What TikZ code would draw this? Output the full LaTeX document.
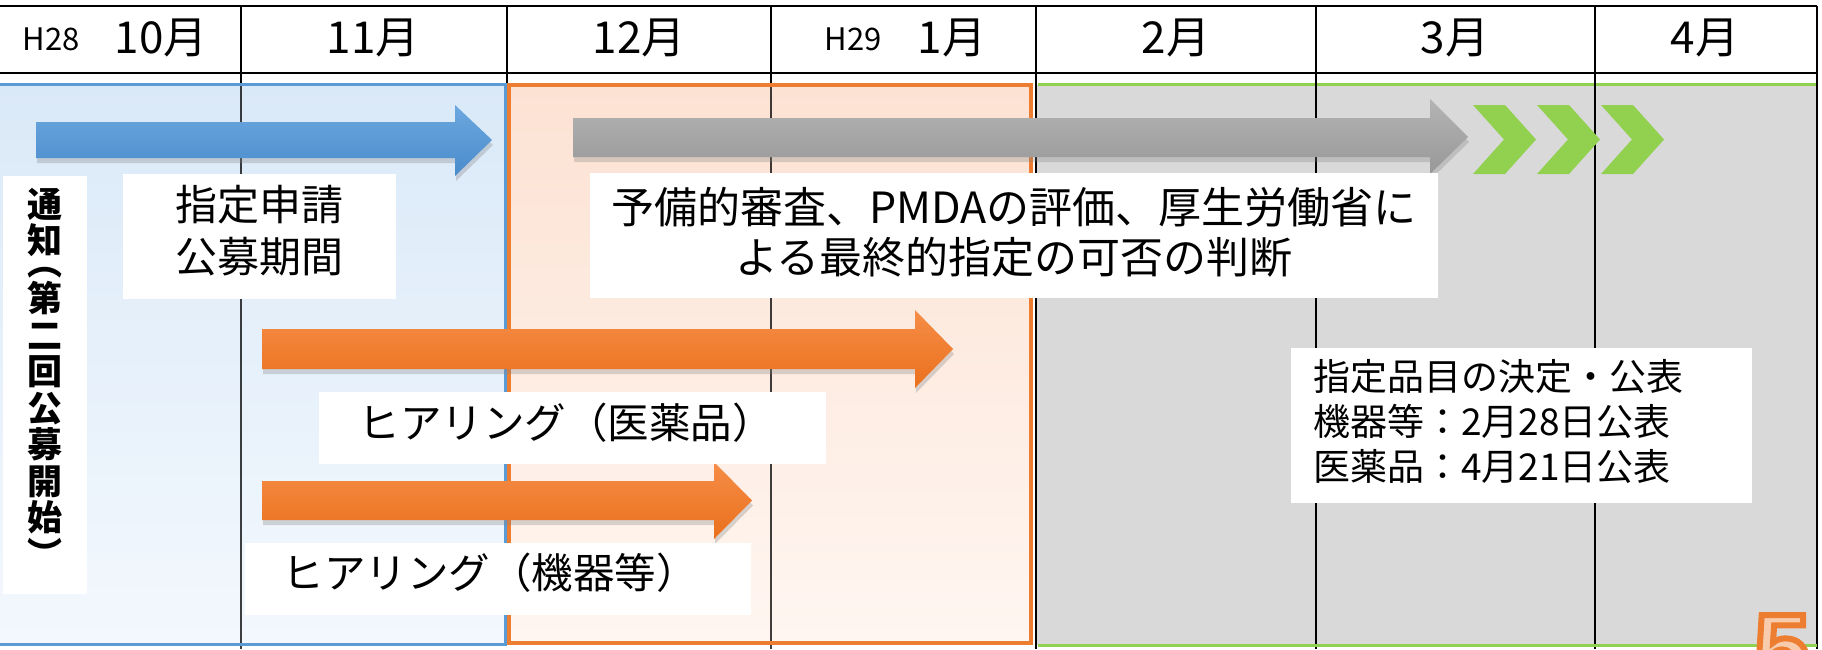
\documentclass[tikz,border=0pt]{standalone}
\usepackage{fontspec}
\usetikzlibrary{shadows}
\newfontfamily\jp{Noto Sans CJK JP}
\newfontfamily\numfont{Liberation Sans}
\definecolor{bBlue}{HTML}{5B9BD5}
\definecolor{bOrange}{HTML}{ED7D31}
\definecolor{bGreen}{HTML}{92D050}
\definecolor{fGray}{HTML}{D9D9D9}
\definecolor{fBlueTop}{HTML}{DAE9F8}
\definecolor{fBlueBot}{HTML}{F3F8FD}
\definecolor{fOrTop}{HTML}{FCE2D3}
\definecolor{fOrBot}{HTML}{FFF6F1}
\definecolor{aBlueTop}{HTML}{6CA8E0}
\definecolor{aBlueBot}{HTML}{4A8BCB}
\definecolor{aGrayTop}{HTML}{B4B4B4}
\definecolor{aGrayBot}{HTML}{989898}
\definecolor{aOrTop}{HTML}{F68D48}
\definecolor{aOrBot}{HTML}{EA701C}
\definecolor{pageFill}{HTML}{F8CBAD}
\begin{document}
\begin{tikzpicture}[x=1pt,y=-1pt,
  gridline/.style={line width=2.6pt,black},
  thingrid/.style={line width=1.6pt,black,opacity=0.75},
  wbox/.style={fill=white,draw=none,inner sep=0pt},
  txt/.style={inner sep=0pt,font=\jp\fontsize{#1}{#1}\selectfont},
  multitxt/.style 2 args={inner sep=0pt,align=center,font=\jp\fontsize{#1}{#2}\selectfont},
  hdr/.style={inner sep=0pt,anchor=base,font=\jp\fontsize{44}{44}\selectfont},
  hdrsmall/.style={inner sep=0pt,anchor=base,font=\jp\fontsize{31}{31}\selectfont},
  ashadow/.style={drop shadow={shadow xshift=1pt,shadow yshift=-5pt,opacity=0.3}},
  bluearrow/.style={top color=aBlueTop,bottom color=aBlueBot,draw=none,ashadow},
  grayarrow/.style={top color=aGrayTop,bottom color=aGrayBot,draw=none,ashadow},
  orangearrow/.style={top color=aOrTop,bottom color=aOrBot,draw=none,ashadow},
  chevron/.style={fill=bGreen,draw=none}
]
\useasboundingbox (0,0) rectangle (1822,649);

% header grid
\draw[gridline] (0,6) -- (1817,6);
\draw[gridline] (0,73) -- (1817,73);
\foreach \x in {241,507,771,1036,1316,1595,1817}
  \draw[gridline] (\x,6) -- (\x,85);

% header labels
\node[hdrsmall] (h28) at (51,50) {H28};
\node[hdr] (m10) at (161,53) {10月};
\node[hdr] (m11) at (373,53) {11月};
\node[hdr] (m12) at (639,53) {12月};
\node[hdrsmall] (h29) at (853,50) {H29};
\node[hdr] (m1) at (952,53) {1月};
\node[hdr] (m2) at (1176,53) {2月};
\node[hdr] (m3) at (1455,53) {3月};
\node[hdr] (m4) at (1705,53) {4月};

% region fills
\fill[top color=fBlueTop,bottom color=fBlueBot] (-5,84) rectangle (505.5,644.5);
\fill[top color=fOrTop,bottom color=fOrBot] (509,85) rectangle (1031,643);
\fill[fGray] (1036,85) rectangle (1817,645);

% body grid
\foreach \x in {241,771}
  \draw[thingrid] (\x,85) -- (\x,649);
\foreach \x in {1036,1316,1595,1817}
  \draw[gridline] (\x,85) -- (\x,649);

% region borders
\draw[bBlue,line width=3pt] (-5,84) rectangle (505.5,644.5);
\draw[bOrange,line width=4pt] (509,85) rectangle (1031,643);
\draw[bGreen,line width=3pt] (1037.5,84.5) -- (1817,84.5);
\draw[bGreen,line width=3pt] (1037.5,645.5) -- (1817,645.5);
\foreach \x in {1316,1595,1817}
  \draw[gridline] (\x,83) -- (\x,87);

% arrows
\path[bluearrow] (36,122) -- (455,122) -- (455,105) -- (492,140) -- (455,176) -- (455,158) -- (36,158) -- cycle;
\path[grayarrow] (573,118) -- (1430,118) -- (1430,99) -- (1468,137) -- (1430,174) -- (1430,157) -- (573,157) -- cycle;
\path[orangearrow] (262,329) -- (915,329) -- (915,310) -- (953,349) -- (915,388) -- (915,369) -- (262,369) -- cycle;
\path[orangearrow] (262,481) -- (714,481) -- (714,462) -- (752,500.5) -- (714,539) -- (714,520) -- (262,520) -- cycle;

% chevrons
\foreach \x in {1473,1537,1601}
  \fill[chevron] (\x,105) -- (\x+32,105) -- (\x+63,139.5) -- (\x+32,174) -- (\x,174) -- (\x+31,139.5) -- cycle;

% text boxes
\node[wbox,minimum width=84,minimum height=418] (noticebox) at (45,385) {};
\node[inner sep=0pt,anchor=north,align=center,font=\jp\bfseries\fontsize{35}{36.5}\selectfont] (notice) at (45,188)
  {通\\知\\[-15pt]︵\\第\\二\\回\\公\\募\\開\\始\\︶};

\node[wbox,minimum width=273,minimum height=125] (applybox) at (259.5,236.5) {};
\node[multitxt={42}{52}] (apply) at (259.5,231) {指定申請\\公募期間};

\node[wbox,minimum width=848,minimum height=125] (reviewbox) at (1014,235.5) {};
\node[multitxt={43}{50}] (review) at (1014,232) {予備的審査、PMDAの評価、厚生労働省に\\よる最終的指定の可否の判断};

\node[wbox,minimum width=507,minimum height=72] (drugbox) at (572.5,428) {};
\node[txt=41.5] (drug) at (566,423) {ヒアリング（医薬品）};

\node[wbox,minimum width=506,minimum height=72] (devbox) at (498,579) {};
\node[txt=41.5] (dev) at (490,573) {ヒアリング（機器等）};

\node[wbox,minimum width=461,minimum height=155] (decbox) at (1521.5,425.5) {};
\node[inner sep=0pt,anchor=west,align=left,font=\jp\fontsize{37}{45}\selectfont] (dec) at (1313,422)
  {指定品目の決定・公表\\機器等：2月28日公表\\医薬品：4月21日公表};

% page number (outlined)
\node[anchor=base west,inner sep=0pt,font=\numfont\bfseries\fontsize{100}{100}\selectfont] (pagenum) at (1754,684)
  {\textcolor{pageFill}{\special{pdf:literal direct 2 Tr 6 w 0.929 0.490 0.192 RG}5\special{pdf:literal direct 0 Tr}}};
\end{tikzpicture}
\end{document}
